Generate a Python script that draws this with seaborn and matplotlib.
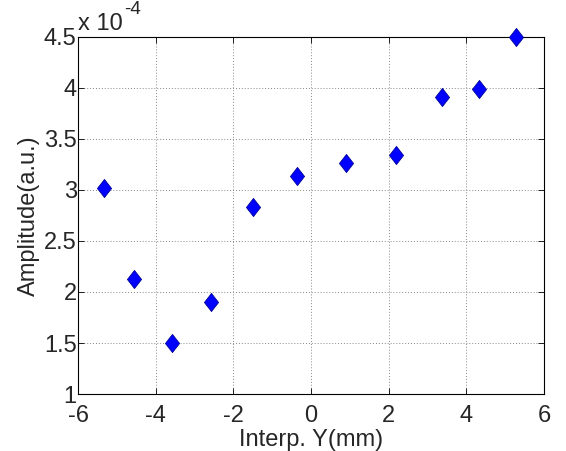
import matplotlib
matplotlib.use("Agg")
import matplotlib.pyplot as plt
import seaborn as sns
import pandas as pd
import numpy as np
from matplotlib.path import Path

interp_y = [-5.33, -4.56, -3.58, -2.57, -1.50, -0.37, 0.89, 2.19, 3.37, 4.33, 5.28]
amplitude_e4 = [3.02, 2.13, 1.50, 1.90, 2.83, 3.14, 3.26, 3.34, 3.91, 3.99, 4.50]
x_ticks = [-6, -4, -2, 0, 2, 4, 6]
y_ticks = [1, 1.5, 2, 2.5, 3, 3.5, 4, 4.5]
y_tick_labels = ["1", "1.5", "2", "2.5", "3", "3.5", "4", "4.5"]

sns.set_style("white")
plt.rcParams['font.family'] = ['Liberation Sans', 'DejaVu Sans']

df = pd.DataFrame({"x": interp_y, "y": amplitude_e4})

fig = plt.figure(figsize=(5.66, 4.51), dpi=100)
ax = fig.add_axes([0.138, 0.126, 0.823, 0.793])

diamond = Path([(0, 1), (0.78, 0), (0, -1), (-0.78, 0), (0, 1)],
               [Path.MOVETO, Path.LINETO, Path.LINETO, Path.LINETO, Path.CLOSEPOLY])
sns.scatterplot(data=df, x="x", y="y", ax=ax, marker=diamond, s=170,
                color=(0, 0, 1), edgecolor=(0, 0, 0.6), linewidth=0.6, zorder=3, clip_on=False)

fs = 17
ax.set_xlim(-6, 6)
ax.set_ylim(1, 4.5)
ax.set_xticks(x_ticks)
ax.set_xticklabels([str(t) for t in x_ticks])
ax.set_yticks(y_ticks)
ax.set_yticklabels(y_tick_labels)
ax.grid(True, linestyle=(0, (1, 2)), color="#888888", linewidth=0.7)
for s in ax.spines.values():
    s.set_visible(True)
    s.set_color("black")
    s.set_linewidth(0.8)
ax.tick_params(direction="in", length=4, width=0.6, color="black", labelsize=fs,
               top=True, right=True, bottom=True, left=True)
ax.tick_params(axis="x", pad=8)
ax.tick_params(axis="y", pad=1)
ax.set_xlabel("Interp. Y(mm)", fontsize=fs, labelpad=1)
ax.set_ylabel("Amplitude(a.u.)", fontsize=fs, labelpad=3)
t1 = ax.text(0.0, 1.005, "x 10", transform=ax.transAxes,
             fontsize=fs, ha="left", va="bottom")
ax.annotate("-4", xy=(1, 0.75), xycoords=t1, xytext=(1, 0), textcoords="offset points",
            fontsize=fs * 0.8, ha="left", va="bottom")

fig.savefig("out.png", dpi=100)
